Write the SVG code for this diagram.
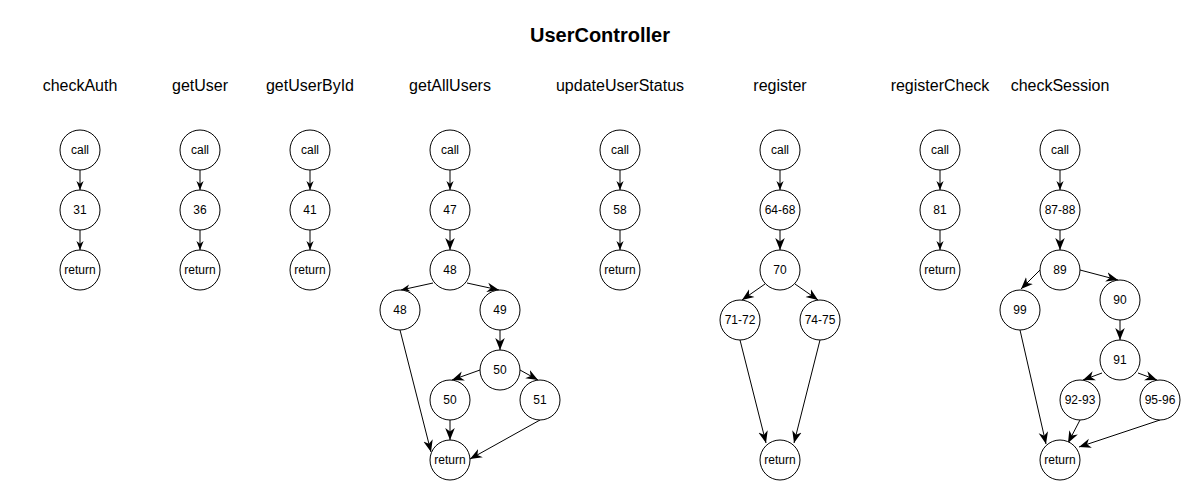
<svg xmlns="http://www.w3.org/2000/svg" width="1200" height="500" viewBox="0 0 1200 500">
<style>
.n circle{fill:#fff;stroke:#000;stroke-width:1}
.n text{font-family:"Liberation Sans",Arial,sans-serif;font-size:12px;text-anchor:middle;dominant-baseline:central;fill:#000}
.t{font-family:"Liberation Sans",Arial,sans-serif;font-size:16px;text-anchor:middle;fill:#000}
.h{font-family:"Liberation Sans",Arial,sans-serif;font-size:20px;font-weight:bold;text-anchor:middle;fill:#000}
#edges line{stroke:#000;stroke-width:1;fill:none;marker-end:url(#arr)}
#edges line.L{marker-end:url(#arrL)}
</style>
<defs>
<marker id="arr" viewBox="0 0 10 10" refX="10" refY="5" markerWidth="9" markerHeight="9" markerUnits="userSpaceOnUse" orient="auto">
<path d="M0,1 L10,5 L0,9 L3,5 z" fill="#000"/>
</marker>
<marker id="arrL" viewBox="0 0 10 10" refX="10" refY="5" markerWidth="12" markerHeight="12" markerUnits="userSpaceOnUse" orient="auto">
<path d="M0,1 L10,5 L0,9 L3,5 z" fill="#000"/>
</marker>
</defs>
<rect width="1200" height="500" fill="#fff"/>
<text class="h" x="600" y="42">UserController</text>
<g id="titles">
<text class="t" x="80" y="91">checkAuth</text>
<text class="t" x="200" y="91">getUser</text>
<text class="t" x="310" y="91">getUserById</text>
<text class="t" x="450" y="91">getAllUsers</text>
<text class="t" x="620" y="91">updateUserStatus</text>
<text class="t" x="780" y="91">register</text>
<text class="t" x="940" y="91">registerCheck</text>
<text class="t" x="1060" y="91">checkSession</text>
</g>
<g id="edges">
<line x1="80" y1="170" x2="80" y2="190"/>
<line x1="80" y1="230" x2="80" y2="250"/>
<line x1="200" y1="170" x2="200" y2="190"/>
<line x1="200" y1="230" x2="200" y2="250"/>
<line x1="310" y1="170" x2="310" y2="190"/>
<line x1="310" y1="230" x2="310" y2="250"/>
<line x1="620" y1="170" x2="620" y2="190"/>
<line x1="620" y1="230" x2="620" y2="250"/>
<line x1="940" y1="170" x2="940" y2="190"/>
<line x1="940" y1="230" x2="940" y2="250"/>
<line x1="450" y1="170" x2="450" y2="190"/>
<line class="L" x1="450" y1="230" x2="450" y2="250"/>
<line x1="433" y1="283" x2="401" y2="290"/>
<line class="L" x1="467" y1="283" x2="499" y2="290"/>
<line class="L" x1="500" y1="330" x2="500" y2="350"/>
<line class="L" x1="480" y1="370" x2="452" y2="380"/>
<line class="L" x1="520" y1="370" x2="538" y2="380"/>
<line class="L" x1="450" y1="420" x2="450" y2="440"/>
<line class="L" x1="400" y1="330" x2="431" y2="452"/>
<line class="L" x1="540" y1="420" x2="470" y2="459"/>
<line x1="780" y1="170" x2="780" y2="190"/>
<line class="L" x1="780" y1="230" x2="780" y2="250"/>
<line class="L" x1="765" y1="284" x2="742" y2="300"/>
<line class="L" x1="795" y1="284" x2="818" y2="300"/>
<line class="L" x1="740" y1="340" x2="766" y2="443"/>
<line class="L" x1="820" y1="340" x2="794" y2="443"/>
<line x1="1060" y1="170" x2="1060" y2="190"/>
<line class="L" x1="1060" y1="230" x2="1060" y2="250"/>
<line class="L" x1="1040" y1="270" x2="1021" y2="289"/>
<line class="L" x1="1080" y1="270" x2="1118" y2="280"/>
<line class="L" x1="1120" y1="320" x2="1120" y2="340"/>
<line class="L" x1="1102" y1="373" x2="1083" y2="380"/>
<line class="L" x1="1138" y1="373" x2="1157" y2="380"/>
<line class="L" x1="1020" y1="330" x2="1046" y2="444"/>
<line class="L" x1="1080" y1="420" x2="1068" y2="443"/>
<line class="L" x1="1160" y1="420" x2="1079" y2="447"/>
</g>
<g id="checkAuth-call" class="n"><circle cx="80" cy="150" r="20"/><text x="80" y="150">call</text></g>
<g id="checkAuth-31" class="n"><circle cx="80" cy="210" r="20"/><text x="80" y="210">31</text></g>
<g id="checkAuth-return" class="n"><circle cx="80" cy="270" r="20"/><text x="80" y="270">return</text></g>
<g id="getUser-call" class="n"><circle cx="200" cy="150" r="20"/><text x="200" y="150">call</text></g>
<g id="getUser-36" class="n"><circle cx="200" cy="210" r="20"/><text x="200" y="210">36</text></g>
<g id="getUser-return" class="n"><circle cx="200" cy="270" r="20"/><text x="200" y="270">return</text></g>
<g id="getUserById-call" class="n"><circle cx="310" cy="150" r="20"/><text x="310" y="150">call</text></g>
<g id="getUserById-41" class="n"><circle cx="310" cy="210" r="20"/><text x="310" y="210">41</text></g>
<g id="getUserById-return" class="n"><circle cx="310" cy="270" r="20"/><text x="310" y="270">return</text></g>
<g id="getAllUsers-call" class="n"><circle cx="450" cy="150" r="20"/><text x="450" y="150">call</text></g>
<g id="getAllUsers-47" class="n"><circle cx="450" cy="210" r="20"/><text x="450" y="210">47</text></g>
<g id="getAllUsers-48a" class="n"><circle cx="450" cy="270" r="20"/><text x="450" y="270">48</text></g>
<g id="getAllUsers-48b" class="n"><circle cx="400" cy="310" r="20"/><text x="400" y="310">48</text></g>
<g id="getAllUsers-49" class="n"><circle cx="500" cy="310" r="20"/><text x="500" y="310">49</text></g>
<g id="getAllUsers-50a" class="n"><circle cx="500" cy="370" r="20"/><text x="500" y="370">50</text></g>
<g id="getAllUsers-50b" class="n"><circle cx="450" cy="400" r="20"/><text x="450" y="400">50</text></g>
<g id="getAllUsers-51" class="n"><circle cx="540" cy="400" r="20"/><text x="540" y="400">51</text></g>
<g id="getAllUsers-return" class="n"><circle cx="450" cy="460" r="20"/><text x="450" y="460">return</text></g>
<g id="updateUserStatus-call" class="n"><circle cx="620" cy="150" r="20"/><text x="620" y="150">call</text></g>
<g id="updateUserStatus-58" class="n"><circle cx="620" cy="210" r="20"/><text x="620" y="210">58</text></g>
<g id="updateUserStatus-return" class="n"><circle cx="620" cy="270" r="20"/><text x="620" y="270">return</text></g>
<g id="register-call" class="n"><circle cx="780" cy="150" r="20"/><text x="780" y="150">call</text></g>
<g id="register-64-68" class="n"><circle cx="780" cy="210" r="20"/><text x="780" y="210">64-68</text></g>
<g id="register-70" class="n"><circle cx="780" cy="270" r="20"/><text x="780" y="270">70</text></g>
<g id="register-71-72" class="n"><circle cx="740" cy="320" r="20"/><text x="740" y="320">71-72</text></g>
<g id="register-74-75" class="n"><circle cx="820" cy="320" r="20"/><text x="820" y="320">74-75</text></g>
<g id="register-return" class="n"><circle cx="780" cy="460" r="20"/><text x="780" y="460">return</text></g>
<g id="registerCheck-call" class="n"><circle cx="940" cy="150" r="20"/><text x="940" y="150">call</text></g>
<g id="registerCheck-81" class="n"><circle cx="940" cy="210" r="20"/><text x="940" y="210">81</text></g>
<g id="registerCheck-return" class="n"><circle cx="940" cy="270" r="20"/><text x="940" y="270">return</text></g>
<g id="checkSession-call" class="n"><circle cx="1060" cy="150" r="20"/><text x="1060" y="150">call</text></g>
<g id="checkSession-87-88" class="n"><circle cx="1060" cy="210" r="20"/><text x="1060" y="210">87-88</text></g>
<g id="checkSession-89" class="n"><circle cx="1060" cy="270" r="20"/><text x="1060" y="270">89</text></g>
<g id="checkSession-99" class="n"><circle cx="1020" cy="310" r="20"/><text x="1020" y="310">99</text></g>
<g id="checkSession-90" class="n"><circle cx="1120" cy="300" r="20"/><text x="1120" y="300">90</text></g>
<g id="checkSession-91" class="n"><circle cx="1120" cy="360" r="20"/><text x="1120" y="360">91</text></g>
<g id="checkSession-92-93" class="n"><circle cx="1080" cy="400" r="20"/><text x="1080" y="400">92-93</text></g>
<g id="checkSession-95-96" class="n"><circle cx="1160" cy="400" r="20"/><text x="1160" y="400">95-96</text></g>
<g id="checkSession-return" class="n"><circle cx="1060" cy="460" r="20"/><text x="1060" y="460">return</text></g>
</svg>
